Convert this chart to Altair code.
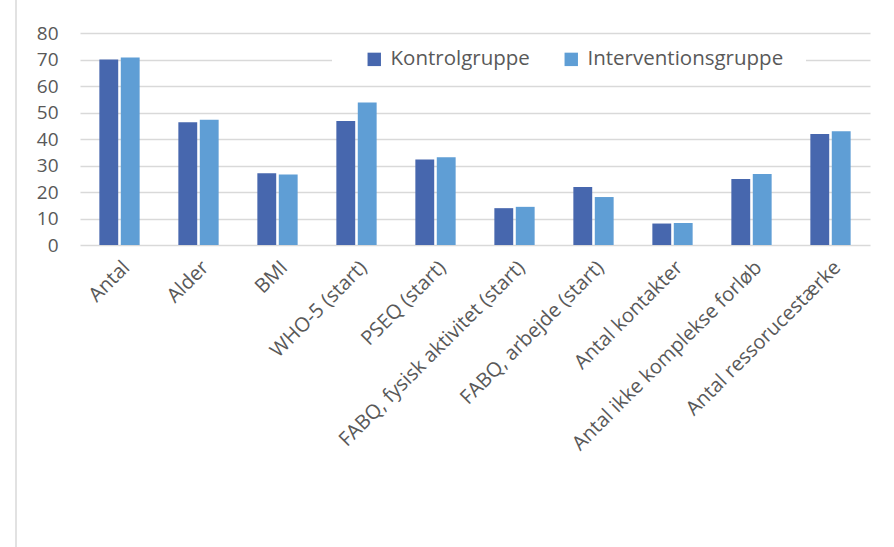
import altair as alt
import pandas as pd

categories = ["Antal", "Alder", "BMI", "WHO-5 (start)", "PSEQ (start)",
              "FABQ, fysisk aktivitet (start)", "FABQ, arbejde (start)",
              "Antal kontakter", "Antal ikke komplekse forløb", "Antal ressorucestærke"]
kontrol = [70.0, 46.3, 27.1, 46.8, 32.3, 13.9, 21.9, 8.1, 24.9, 41.9]
intervention = [70.8, 47.3, 26.6, 53.8, 33.1, 14.4, 18.1, 8.3, 26.8, 42.9]
groups = ["Kontrolgruppe", "Interventionsgruppe"]
colors = ["#4767AE", "#5F9ED5"]
y_ticks = [0, 10, 20, 30, 40, 50, 60, 70, 80]

rows = []
for c, k, i in zip(categories, kontrol, intervention):
    rows.append({"kategori": c, "gruppe": groups[0], "værdi": k})
    rows.append({"kategori": c, "gruppe": groups[1], "værdi": i})
df = pd.DataFrame(rows)

FONT = "Open Sans"
TXT = "#595959"

bars = alt.Chart(df).mark_bar().encode(
    x=alt.X("kategori:N", sort=categories, title=None,
            scale=alt.Scale(paddingInner=0.49, paddingOuter=0.245),
            axis=alt.Axis(labelAngle=-45, labelFontSize=20, labelColor=TXT, labelFont=FONT,
                          ticks=False, domain=False, grid=False, labelPadding=12,
                          labelLimit=400)),
    xOffset=alt.XOffset("gruppe:N", sort=groups,
                        scale=alt.Scale(paddingInner=0.12, paddingOuter=0)),
    y=alt.Y("værdi:Q", title=None,
            scale=alt.Scale(domain=[0, 80], nice=False),
            axis=alt.Axis(values=y_ticks, ticks=False, domain=False, labelFontSize=19,
                          labelColor=TXT, labelFont=FONT, labelPadding=22,
                          gridColor="#D9D9D9", gridWidth=1.3)),
    color=alt.Color("gruppe:N", sort=groups,
                    scale=alt.Scale(domain=groups, range=colors),
                    legend=alt.Legend(title=None, orient="none", direction="horizontal",
                                      legendX=284, legendY=16, symbolType="square",
                                      symbolSize=180, symbolStrokeWidth=0,
                                      labelFontSize=20.5, labelFont=FONT, labelColor=TXT,
                                      labelOffset=6, columnPadding=31, padding=0,
                                      labelLimit=0)),
)

legend_bg = alt.Chart(pd.DataFrame({"a": [0]})).mark_rect(color="white").encode(
    x=alt.value(252), x2=alt.value(726), y=alt.value(16), y2=alt.value(40)
)

frame = alt.Chart(pd.DataFrame({"a": [0]})).mark_rule(color="#D9D9D9", strokeWidth=1.5).encode(
    x=alt.value(-64), y=alt.value(-33), y2=alt.value(514)
)

chart = alt.layer(bars, legend_bg, frame).properties(
    width=790, height=212,
    autosize=alt.AutoSizeParams(type="none"),
    padding={"left": 80, "top": 33, "right": 24, "bottom": 302},
    background="white",
).configure_view(stroke=None)

chart.save("out.html", embed_options={"renderer": "svg", "actions": False})
